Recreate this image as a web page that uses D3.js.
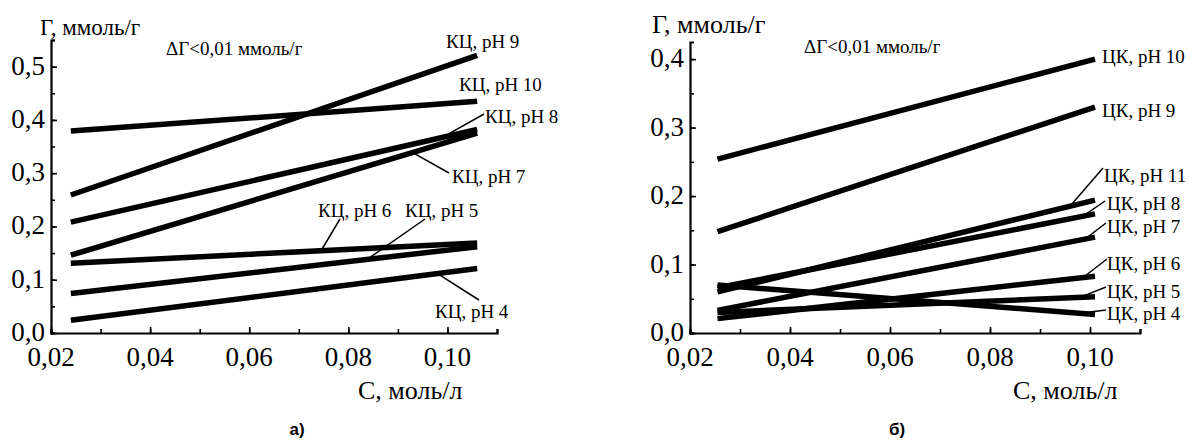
<!DOCTYPE html>
<html><head><meta charset="utf-8">
<script src="https://cdn.jsdelivr.net/npm/d3@7/dist/d3.min.js"></script>
<style>body{margin:0;background:#fff}svg{display:block}
text.serif{font-family:"Liberation Serif","DejaVu Serif",serif}
text.sans{font-family:"Liberation Sans","DejaVu Sans",sans-serif}
</style>
</head><body>
<svg id="chart" width="1200" height="444"></svg>
<script>
// ---------- data ----------
// Panel a) КЦ
const kcSeries = ["КЦ, pH 9","КЦ, pH 10","КЦ, pH 8","КЦ, pH 7","КЦ, pH 6","КЦ, pH 5","КЦ, pH 4"];
const kcC = [0.024, 0.106];
const kcValues = [
  [0.259, 0.521],
  [0.379, 0.435],
  [0.208, 0.382],
  [0.146, 0.375],
  [0.131, 0.169],
  [0.074, 0.162],
  [0.024, 0.121]
];
// Panel б) ЦК
const ckSeries = ["ЦК, pH 10","ЦК, pH 9","ЦК, pH 11","ЦК, pH 8","ЦК, pH 7","ЦК, pH 6","ЦК, pH 5","ЦК, pH 4"];
const ckC = [0.0255, 0.101];
const ckValues = [
  [0.254, 0.400],
  [0.148, 0.330],
  [0.060, 0.194],
  [0.066, 0.174],
  [0.033, 0.140],
  [0.021, 0.083],
  [0.030, 0.053],
  [0.070, 0.027]
];
const xTicksMajor = [0.02, 0.04, 0.06, 0.08, 0.10];
const kcYTicks = [0.0, 0.1, 0.2, 0.3, 0.4, 0.5];
const ckYTicks = [0.0, 0.1, 0.2, 0.3, 0.4];
const yTitle = "Г, ммоль/г";
const xTitle = "C, моль/л";
const noteText = "ΔΓ<0,01 ммоль/г";
const panelLetters = ["а)", "б)"];

// ---------- layout ----------
const fmt = d => d3.format(".1f")(d).replace(".", ",");
const fmtX = d => d3.format(".2f")(d).replace(".", ",");
const svg = d3.select("#chart");

const panels = [
  { series: kcSeries, c: kcC, values: kcValues, yTicks: kcYTicks,
    x0: 51, x1: 497, yBot: 333, yTop: 40, yMax: 0.55,
    titleX: 40, titleY: 35, titleSize: 23, noteX: 166, noteY: 55,
    xTitleX: 358, letterX: 297,
    labels: [
      {x: 446, y: 48}, {x: 459, y: 91},
      {x: 485, y: 123, lx: 484, ly: 114, c: 0.099},
      {x: 452, y: 183, lx: 449, ly: 173, c: 0.093},
      {x: 318, y: 217, lx: 340, ly: 219, c: 0.0745},
      {x: 405, y: 217, lx: 425, ly: 219, c: 0.0838},
      {x: 435, y: 318, lx: 479, ly: 300, c: 0.098}
    ]},
  { series: ckSeries, c: ckC, values: ckValues, yTicks: ckYTicks,
    x0: 690, x1: 1140, yBot: 333, yTop: 42, yMax: 0.425,
    titleX: 652, titleY: 33, titleSize: 26, noteX: 804, noteY: 53,
    xTitleX: 1013, letterX: 897,
    labels: [
      {x: 1102, y: 63}, {x: 1102, y: 117},
      {x: 1104, y: 182, lx: 1103, ly: 168, c: 0.096},
      {x: 1107, y: 210, lx: 1105, ly: 201, c: 0.0986},
      {x: 1107, y: 233, lx: 1106, ly: 223, c: 0.099},
      {x: 1107, y: 270, lx: 1107, ly: 259, c: 0.0986},
      {x: 1107, y: 298, lx: 1106, ly: 287, c: 0.098},
      {x: 1107, y: 320, lx: 1106, ly: 310, c: 0.098}
    ]}
];

panels.forEach((p, pi) => {
  const x = d3.scaleLinear().domain([0.02, 0.11]).range([p.x0, p.x1]);
  const y = d3.scaleLinear().domain([0, p.yMax]).range([p.yBot, p.yTop]);
  const g = svg.append("g");

  // axes with minor ticks
  const xMinor = d3.range(0.02, 0.1101, 0.01);
  const yMinor = d3.range(0, p.yMax + 0.0001, 0.05);
  g.append("g").attr("transform", `translate(0,${p.yBot})`)
    .call(d3.axisBottom(x).tickValues(xMinor).tickSize(-4).tickFormat(""));
  g.append("g").attr("transform", `translate(${p.x0},0)`)
    .call(d3.axisLeft(y).tickValues(yMinor).tickSize(-4).tickFormat(""));
  // major ticks
  g.append("g").attr("transform", `translate(0,${p.yBot})`)
    .call(d3.axisBottom(x).tickValues(xTicksMajor).tickSize(-6).tickFormat(""))
    .select(".domain").remove();
  g.append("g").attr("transform", `translate(${p.x0},0)`)
    .call(d3.axisLeft(y).tickValues(p.yTicks).tickSize(-6).tickFormat(""))
    .select(".domain").remove();
  g.selectAll(".domain").attr("stroke", "#000").attr("stroke-width", 2.2);
  g.selectAll(".tick line").attr("stroke", "#000").attr("stroke-width", 1.6);

  // tick labels
  g.selectAll(".xl").data(xTicksMajor).enter().append("text").attr("class", "serif")
    .attr("x", d => x(d)).attr("y", p.yBot + 33)
    .attr("text-anchor", "middle").attr("font-size", 27)
    .text(fmtX);
  g.selectAll(".yl").data(p.yTicks).enter().append("text").attr("class", "serif")
    .attr("x", p.x0 - 6).attr("y", d => y(d) + 8)
    .attr("text-anchor", "end").attr("font-size", 27)
    .text(fmt);

  // titles
  g.append("text").attr("class", "serif").attr("x", p.titleX).attr("y", p.titleY)
    .attr("font-size", p.titleSize).text(yTitle);
  g.append("text").attr("class", "serif").attr("x", p.xTitleX).attr("y", p.yBot + 66)
    .attr("font-size", 26).text(xTitle);
  g.append("text").attr("class", "serif").attr("x", p.noteX).attr("y", p.noteY)
    .attr("font-size", 19).text(noteText);
  g.append("text").attr("class", "sans").attr("x", p.letterX).attr("y", 435)
    .attr("text-anchor", "middle")
    .attr("font-weight", "bold").attr("font-size", 17).text(panelLetters[pi]);

  // lines
  const line = d3.line().x(d => x(d[0])).y(d => y(d[1]));
  p.values.forEach((vals) => {
    g.append("path").datum(vals.map((v, i) => [p.c[i], v]))
      .attr("d", line).attr("fill", "none").attr("stroke", "#000")
      .attr("stroke-width", 5.5);
  });

  // labels + leaders
  p.series.forEach((name, i) => {
    const L = p.labels[i];
    if (L.c !== undefined) {
      const vals = p.values[i];
      const t = (L.c - p.c[0]) / (p.c[1] - p.c[0]);
      const v = vals[0] + t * (vals[1] - vals[0]);
      g.append("line").attr("x1", L.lx).attr("y1", L.ly)
        .attr("x2", x(L.c)).attr("y2", y(v))
        .attr("stroke", "#000").attr("stroke-width", 1.5);
    }
    g.append("text").attr("class", "serif").attr("x", L.x).attr("y", L.y)
      .attr("font-size", 19).text(name);
  });
});
</script>
</body></html>
